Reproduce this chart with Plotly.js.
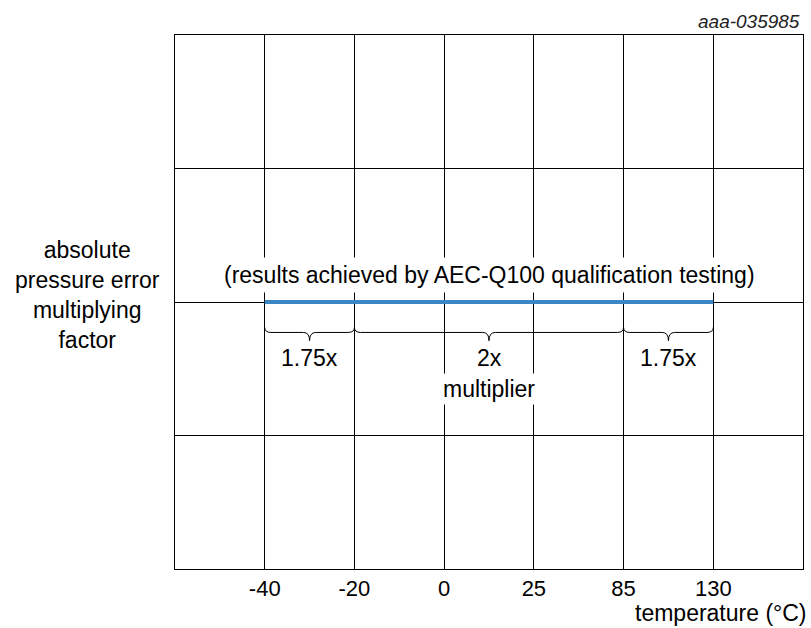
<!DOCTYPE html>
<html>
<head>
<meta charset="utf-8">
<script src="https://cdn.plot.ly/plotly-3.0.1.min.js"></script>
<style>html,body{margin:0;padding:0;background:#fff;}#chart{width:811px;height:628px;}</style>
</head>
<body>
<div id="chart"></div>
<script>
// ---- data ----
const tempLabels = ['-40', '-20', '0', '25', '85', '130'];
const qualRange = ['-40', '130'];          // AEC-Q100 tested span
const qualLevel = 2;                         // grid row of the blue line
const segStart = ['-40', '-20', '85'];
const segEnd = ['-20', '85', '130'];
const segLabel = ['1.75x', '2x', '1.75x'];
const segSubLabel = ['', 'multiplier', ''];
const yRows = [1, 2, 3];
const noteText = '(results achieved by AEC-Q100 qualification testing)';
const yTitle = 'absolute<br>pressure error<br>multiplying<br>factor';
const xTitle = 'temperature (°C)';
const docId = 'aaa-035985';

// ---- styles ----
const FONT = 'Liberation Sans, Arial, sans-serif';
const FS = 23;
const idx = c => tempLabels.indexOf(c);
const braceTop = 1.81, braceMid = 1.772, braceTip = 1.71, braceR = 0.07;

const shapes = segStart.map((s, i) => {
  const x0 = idx(s), x1 = idx(segEnd[i]), xm = (x0 + x1) / 2;
  const p = `M ${x0},${braceTop} Q ${x0},${braceMid} ${x0 + braceR},${braceMid} ` +
            `L ${xm - braceR},${braceMid} Q ${xm},${braceMid} ${xm},${braceTip} ` +
            `Q ${xm},${braceMid} ${xm + braceR},${braceMid} ` +
            `L ${x1 - braceR},${braceMid} Q ${x1},${braceMid} ${x1},${braceTop}`;
  return {type: 'path', xref: 'x', yref: 'y', path: p, line: {color: '#000', width: 1}};
});

const annotations = [];
segLabel.forEach((t, i) => {
  const xm = (idx(segStart[i]) + idx(segEnd[i])) / 2;
  annotations.push({x: xm, y: 1.58, xref: 'x', yref: 'y', text: t, showarrow: false,
    font: {family: FONT, size: FS, color: '#000'}});
  if (segSubLabel[i]) {
    annotations.push({x: xm, y: 1.346, xref: 'x', yref: 'y', text: segSubLabel[i], showarrow: false,
      bgcolor: '#fff', borderpad: 2, font: {family: FONT, size: FS, color: '#000'}});
  }
});
annotations.push({x: (idx(qualRange[0]) + idx(qualRange[1])) / 2, y: 2.2, xref: 'x', yref: 'y',
  text: noteText, showarrow: false, bgcolor: '#fff', borderpad: 4,
  font: {family: FONT, size: FS, color: '#000'}});
annotations.push({x: -0.139, y: 0.513, xref: 'paper', yref: 'paper', xanchor: 'center', yanchor: 'middle',
  text: yTitle, showarrow: false, align: 'center', font: {family: FONT, size: FS, color: '#000'}});
annotations.push({x: 1.009, y: -0.083, xref: 'paper', yref: 'paper', xanchor: 'right', yanchor: 'middle',
  text: xTitle, showarrow: false, font: {family: FONT, size: FS, color: '#000'}});
annotations.push({x: 0.9985, y: 1.026, xref: 'paper', yref: 'paper', xanchor: 'right', yanchor: 'middle',
  text: '<i>' + docId + '</i>', showarrow: false, font: {family: FONT, size: 19, color: '#222'}});

const traces = [{
  type: 'scatter', mode: 'lines', x: qualRange, y: [qualLevel, qualLevel],
  line: {color: '#3d86c6', width: 4}, hoverinfo: 'skip'
}];

const layout = {
  width: 811, height: 628,
  margin: {l: 175, r: 8, t: 35, b: 59},
  paper_bgcolor: '#fff', plot_bgcolor: '#fff',
  showlegend: false,
  xaxis: {type: 'category', categoryorder: 'array', categoryarray: tempLabels,
    range: [-1, 6], tickvals: tempLabels, ticktext: tempLabels,
    showgrid: true, gridcolor: '#000', gridwidth: 1, zeroline: false,
    showline: true, linecolor: '#000', linewidth: 1, mirror: true, ticks: '',
    tickfont: {family: FONT, size: 22, color: '#000'}, fixedrange: true},
  yaxis: {range: [0, 4], tickvals: yRows, showticklabels: false, showgrid: true,
    gridcolor: '#000', gridwidth: 1, zeroline: false, showline: true, linecolor: '#000',
    linewidth: 1, mirror: true, ticks: '', fixedrange: true},
  shapes: shapes,
  annotations: annotations,
  font: {family: FONT}
};

Plotly.newPlot('chart', traces, layout, {displayModeBar: false, staticPlot: true});
</script>
</body>
</html>
